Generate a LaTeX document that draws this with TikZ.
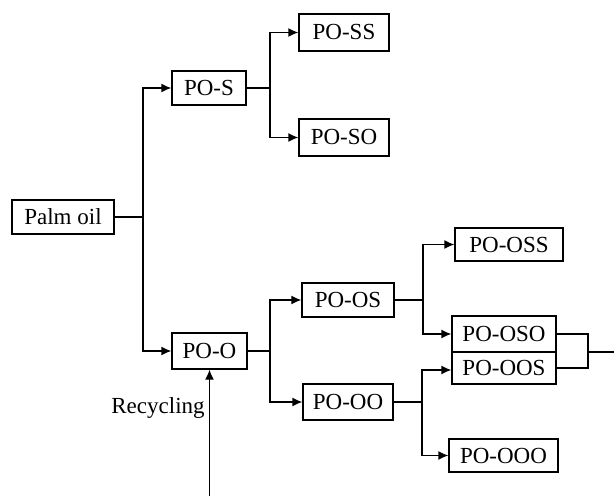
\documentclass[tikz,border=0pt]{standalone}
\usepackage{fontspec}
\setmainfont{Liberation Serif}
\usetikzlibrary{arrows.meta}
\begin{document}
\begin{tikzpicture}[x=0.5pt,y=-0.5pt,
  lbl/.style={font=\fontsize{11.5}{13}\selectfont},
  box/.style={lbl, draw, line width=0.65pt, inner sep=0pt, minimum height=17pt},
  link/.style={line width=0.65pt},
  arr/.style={link, -{Latex[length=5pt,width=4.5pt]}}]
\useasboundingbox (0,0) rectangle (614,496);

% boxes
\node[box, minimum width=51pt] (palm) at (63,217) {Palm oil};
\node[box, minimum width=37pt] (pos)  at (209,88) {PO-S};
\node[box, minimum width=45pt, minimum height=18.5pt] (poss) at (344,32.5) {PO-SS};
\node[box, minimum width=45pt, minimum height=18.5pt] (poso) at (344,137.5) {PO-SO};
\node[box, minimum width=37.5pt, minimum height=18pt] (poo) at (209.5,351) {PO-O};
\node[box, minimum width=46pt] (poos) at (348,300) {PO-OS};
\node[box, minimum width=45pt, minimum height=18pt] (pooo) at (348,402) {PO-OO};
\node[box, minimum width=54pt, minimum height=16.5pt] (poss2) at (509,244.5) {PO-OSS};
\node[box, minimum width=52pt, minimum height=18pt] (poso2) at (504,334) {PO-OSO};
\node[box, minimum width=52pt, minimum height=16pt] (poos2) at (504,368) {PO-OOS};
\node[box, minimum width=54.5pt, minimum height=16.5pt] (pooo2) at (503.5,455.5) {PO-OOO};

% junction points
\coordinate (j0) at (143,217);
\coordinate (j1) at (270,88);
\coordinate (j2) at (270,351);
\coordinate (j3) at (423,300);
\coordinate (j4) at (422,402);
\coordinate (j5) at (588,352);
\coordinate (out) at (614,352);
\coordinate (rec) at (209.5,496);

% first split
\draw[link] (palm.east) -- (j0);
\draw[arr] (j0) |- (pos.west);
\draw[arr] (j0) |- (poo.west);

% PO-S fractions
\draw[link] (pos.east) -- (j1);
\draw[arr] (j1) |- (poss.west);
\draw[arr] (j1) |- (poso.west);

% PO-O fractions
\draw[link] (poo.east) -- (j2);
\draw[arr] (j2) |- (poos.west);
\draw[arr] (j2) |- (pooo.west);

% PO-OS fractions
\draw[link] (poos.east) -- (j3);
\draw[arr] (j3) |- (poss2.west);
\draw[arr] (j3) |- (poso2.west);

% PO-OO fractions
\draw[link] (pooo.east) -- (j4);
\draw[arr] (j4) |- ([yshift=-1pt]poos2.west);
\draw[arr] (j4) |- (pooo2.west);

% merged stream
\draw[link] (poso2.east) -| (j5);
\draw[link] (poos2.east) -| (j5);
\draw[link] (j5) -- (out);

% recycling line
\draw[arr] (rec) -- (poo.south);
\node[lbl] (rectext) at (158,408) {Recycling};
\end{tikzpicture}
\end{document}
